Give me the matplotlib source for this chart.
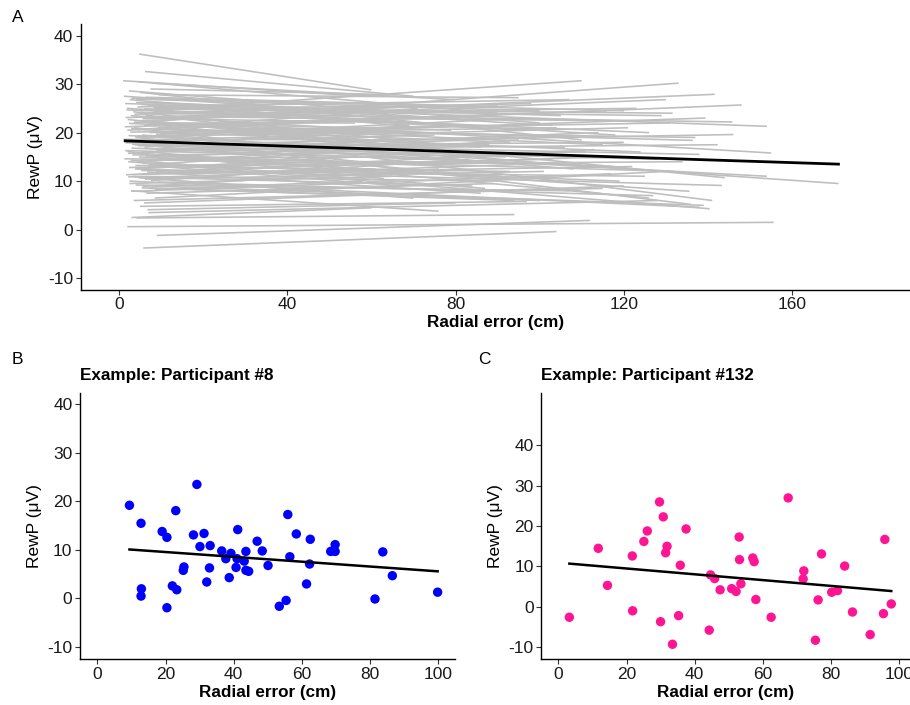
import matplotlib.pyplot as plt

plt.rcParams['font.family'] = ['Liberation Sans', 'DejaVu Sans']
plt.rcParams['axes.unicode_minus'] = False

# ---- panel A: per-participant fits (x start, y start, x end, y end) ----
a_x0 = [4.8, 6.2, 1.0, 4.5, 8.0, 2.4, 3.0, 7.5, 5.0, 9.5,
        5.0, 3.5, 6.5, 2.0, 8.5, 4.0, 7.0, 1.5, 3.8, 6.0, 2.8, 9.0, 5.5, 4.2, 2.2, 7.8, 2.0, 6.6, 3.3,
        5.8, 9.0, 4.2, 6.8, 6.0, 5.4, 3.0, 8.5, 7.0, 2.5,
        1.2, 2.6, 4.1, 5.3, 6.9, 8.2, 1.8, 3.4, 4.9, 6.3, 7.7, 9.1, 2.1, 3.6, 5.2, 6.7, 8.0, 1.4, 2.9,
        4.4, 5.8, 7.3, 8.8, 2.3, 3.9, 5.4, 6.8, 8.3, 1.6, 3.1, 4.6, 6.1, 7.5, 9.0, 2.0, 3.5, 5.0, 6.4,
        7.9, 1.3, 2.8, 4.3, 5.7, 7.2, 8.7, 2.4, 3.8, 5.3, 6.7, 8.2, 1.7, 3.2, 4.7, 6.2, 7.6, 9.2, 2.5,
        4.0, 5.6, 7.1, 8.6, 3.0, 6.5,
        1.9, 3.7, 5.6, 7.4, 9.3, 2.7, 4.5, 6.4, 8.1, 1.5, 3.2, 5.1, 6.9, 8.8, 2.2, 4.1, 6.0, 7.8, 9.7,
        1.1, 3.0, 4.8, 6.6, 8.4, 2.4, 5.9, 7.0, 3.9, 8.9, 1.6, 5.2, 6.3, 4.4, 2.2, 7.7, 9.4,
        4.6, 7.3, 3.6, 3.5, 7.9, 5.0, 2.9]
a_y0 = [36.2, 32.6, 30.7, 30.5, 30.2, 28.6, 27.1, 29.0, 28.3, 27.8,
        24.5, 22.0, 23.0, 20.5, 25.0, 19.0, 24.0, 26.0, 17.5, 21.5, 23.5, 16.5, 19.5, 12.5, 14.0, 15.5, 0.6, 22.5, 18.0,
        -3.8, -1.2, 2.4, 4.1, 5.5, 8.6, 2.5, 6.5, 3.5, 10.0,
        27.5, 26.8, 26.2, 25.8, 25.5, 25.1, 24.7, 24.3, 24.0, 23.6, 23.3, 23.0, 22.7, 22.4, 22.1, 21.8, 21.5, 21.2, 20.9,
        20.6, 20.3, 20.0, 19.7, 19.4, 19.1, 18.8, 18.5, 18.2, 17.9, 17.6, 17.3, 17.0, 16.7, 16.4, 16.1, 15.8, 15.5, 15.2,
        14.9, 14.6, 14.3, 14.0, 13.7, 13.4, 13.1, 12.8, 12.5, 12.2, 11.9, 11.6, 11.3, 11.0, 10.7, 10.4, 10.1, 9.8, 9.5,
        9.2, 8.9, 8.6, 8.3, 7.9, 7.5,
        25.0, 23.8, 22.9, 21.9, 21.0, 20.1, 19.3, 18.0, 17.2, 16.3, 15.4, 14.4, 13.0, 12.0, 10.9, 26.9, 24.9, 22.0, 19.8,
        18.6, 16.8, 15.0, 20.7, 24.4, 21.9, 17.7, 26.4, 13.2, 10.8, 23.1, 11.4, 27.3, 25.3, 15.7, 17.9, 14.7,
        19.0, 16.0, 21.0, 6.0, 9.0, 4.8, 8.0]
a_x1 = [60, 70, 58, 90, 80, 100, 120, 66, 110, 95,
        110, 133, 141.6, 148, 131.6, 139.4, 145.8, 154, 146, 136.4, 155, 142.3, 171, 143.3, 140.4, 135.6, 155.6, 144, 154,
        104, 112, 94, 80, 120, 100, 60, 130, 128, 138,
        85, 72, 105, 64, 118, 90, 126, 77, 98, 55, 112, 68, 88, 130, 79, 102, 60, 116, 93,
        71, 124, 84, 108, 66, 97, 57, 121, 75, 106, 82, 128, 69, 92, 114, 63, 99, 80, 132,
        73, 110, 87, 59, 119, 95, 67, 103, 78, 125, 86, 61, 113, 90, 70, 101, 83, 127, 65,
        107, 76, 94, 58, 117, 89,
        96, 123, 74, 109, 86, 131, 62, 99, 120, 81, 111, 68, 93, 116, 84, 100, 129, 56, 104,
        72, 118, 91, 137, 78, 115, 88, 103, 134, 97, 64, 122, 85, 107, 76, 138, 66,
        136, 126, 141, 115, 139, 97, 76]
a_y1 = [28.8, 27.5, 27.5, 24.0, 26.8, 22.0, 24.5, 27.8, 18.5, 27.2,
        30.7, 30.2, 27.9, 25.7, 24.0, 23.0, 22.2, 21.3, 19.6, 18.4, 15.8, 17.5, 9.5, 9.1, 4.3, 7.9, 1.5, 10.7, 11.0,
        -0.4, 1.9, 3.1, 5.5, 9.0, 6.0, 4.5, 12.0, 6.0, 4.6,
        22.5, 21.0, 23.5, 24.0, 19.5, 25.5, 20.0, 17.5, 26.0, 19.0, 22.5, 25.5, 15.5, 26.8, 20.5, 13.5, 22.5, 24.5, 18.0,
        25.0, 16.0, 21.5, 12.5, 16.5, 23.0, 14.0, 21.0, 19.5, 17.0, 11.5, 14.5, 21.5, 15.0, 20.0, 10.5, 19.0, 13.0, 12.0,
        17.5, 13.5, 8.5, 16.5, 10.0, 18.5, 9.0, 14.5, 16.0, 11.0, 7.5, 12.5, 16.5, 10.0, 6.5, 12.0, 14.5, 7.0, 11.0,
        8.0, 12.5, 6.0, 10.0, 11.5, 9.5,
        20.5, 25.0, 22.0, 19.0, 17.0, 22.0, 20.0, 15.5, 18.0, 14.5, 16.0, 13.5, 12.0, 15.0, 9.0, 24.5, 23.5, 22.0, 21.0,
        18.5, 13.0, 11.0, 19.0, 23.0, 17.5, 17.5, 21.5, 14.0, 13.5, 24.5, 13.0, 25.5, 26.8, 20.0, 15.5, 15.0,
        5.2, 6.5, 6.0, 8.5, 5.0, 5.8, 3.8]
a_mean_x = [1.5, 171]
a_mean_y = [18.3, 13.5]

# ---- panel B: participant #8 ----
b_err = [9.4, 12.8, 12.9, 12.8, 19.0, 20.4, 20.4, 23.0, 22.0, 23.3, 25.2, 25.4, 28.2, 29.2,
         30.1, 31.3, 32.1, 33.1, 32.9, 36.5, 37.7, 38.7, 39.2, 41.2, 40.7, 41.0, 43.1, 43.6,
         43.6, 44.4, 46.9, 48.4, 50.1, 53.4, 55.4, 55.9, 56.5, 58.4, 61.4, 62.3, 62.5, 68.5,
         69.8, 69.8, 81.5, 83.8, 86.6, 99.9]
b_rewp = [19.2, 15.5, 2.0, 0.5, 13.8, 12.6, -1.9, 18.1, 2.6, 1.8, 5.8, 6.5, 13.1, 23.5,
          10.7, 13.4, 3.4, 10.9, 6.3, 9.8, 8.2, 4.3, 9.3, 14.2, 6.4, 8.2, 7.7, 9.7,
          5.8, 5.6, 11.8, 9.8, 6.8, -1.6, -0.4, 17.3, 8.6, 13.3, 3.0, 7.1, 12.2, 9.7,
          11.1, 9.7, -0.1, 9.6, 4.7, 1.3]
b_fit_x = [9.4, 99.9]
b_fit_y = [10.1, 5.6]

# ---- panel C: participant #132 ----
c_err = [3.2, 11.7, 14.4, 21.7, 21.8, 25.1, 26.1, 29.7, 30.0, 30.8, 31.9, 31.5, 33.5, 35.3,
         35.8, 37.5, 44.3, 44.7, 45.9, 47.5, 50.9, 52.2, 53.1, 53.2, 53.6, 57.1, 57.5, 58.0,
         62.5, 67.5, 71.9, 72.1, 75.5, 76.3, 77.3, 80.3, 82.0, 84.1, 86.4, 91.6, 95.5, 95.9, 97.8]
c_rewp = [-2.6, 14.5, 5.3, 12.6, -1.0, 16.2, 18.8, 26.0, -3.7, 22.3, 15.0, 13.4, -9.3, -2.2,
          10.3, 19.3, -5.8, 7.9, 7.0, 4.2, 4.5, 3.8, 17.3, 11.7, 5.7, 12.1, 11.2, 1.8,
          -2.6, 27.0, 6.9, 8.9, -8.3, 1.7, 13.1, 3.6, 4.0, 10.1, -1.3, -6.9, -1.7, 16.7, 0.7]
c_fit_x = [3.2, 97.8]
c_fit_y = [10.7, 3.9]

yticks = [-10, 0, 10, 20, 30, 40]
ylab = 'RewP (\u03bcV)'
xlab = 'Radial error (cm)'


def style(ax):
    for s in ['top', 'right']:
        ax.spines[s].set_visible(False)
    for s in ['left', 'bottom']:
        ax.spines[s].set_linewidth(1.0)
        ax.spines[s].set_color('black')
    ax.tick_params(length=3.5, width=0.8, color='#333333', labelsize=12.5, labelcolor='#1a1a1a', pad=2)
    ax.set_yticks(yticks)
    ax.set_ylabel(ylab, fontsize=12.5, labelpad=4)
    ax.set_xlabel(xlab, fontsize=12.3, fontweight='bold', labelpad=2)


fig = plt.figure(figsize=(9.1, 7.05), dpi=100)

# A
ax = fig.add_axes([0.089, 0.589, 0.911, 0.377])
for i in range(len(a_x0)):
    ax.plot([a_x0[i], a_x1[i]], [a_y0[i], a_y1[i]], color='#BEBEBE', lw=1.15, solid_capstyle='butt')
ax.plot(a_mean_x, a_mean_y, color='black', lw=2.0)
ax.set_xlim(-9, 188)
ax.set_ylim(-12.4, 42.4)
ax.set_xticks([0, 40, 80, 120, 160])
style(ax)
fig.text(0.013, 0.975, 'A', fontsize=12.5, va='center', ha='left')

# B
ax = fig.add_axes([0.088, 0.065, 0.412, 0.378])
ax.scatter(b_err, b_rewp, s=46, color='#0000FF', edgecolors='none', zorder=2)
ax.plot(b_fit_x, b_fit_y, color='black', lw=1.8, zorder=3)
ax.set_xlim(-5.1, 105)
ax.set_ylim(-12.5, 42.4)
ax.set_xticks([0, 20, 40, 60, 80, 100])
style(ax)
ax.set_title('Example: Participant #8', loc='left', fontsize=12.3, fontweight='bold', pad=9)
fig.text(0.013, 0.49, 'B', fontsize=12.5, va='center', ha='left')

# C
ax = fig.add_axes([0.595, 0.065, 0.405, 0.378])
ax.scatter(c_err, c_rewp, s=46, color='#FF1493', edgecolors='none', zorder=2)
ax.plot(c_fit_x, c_fit_y, color='black', lw=1.8, zorder=3)
ax.set_xlim(-5, 103.3)
ax.set_ylim(-13, 53.1)
ax.set_xticks([0, 20, 40, 60, 80, 100])
style(ax)
ax.set_title('Example: Participant #132', loc='left', fontsize=12.3, fontweight='bold', pad=9)
fig.text(0.525, 0.49, 'C', fontsize=12.5, va='center', ha='left')

fig.savefig('out.png', dpi=100)
